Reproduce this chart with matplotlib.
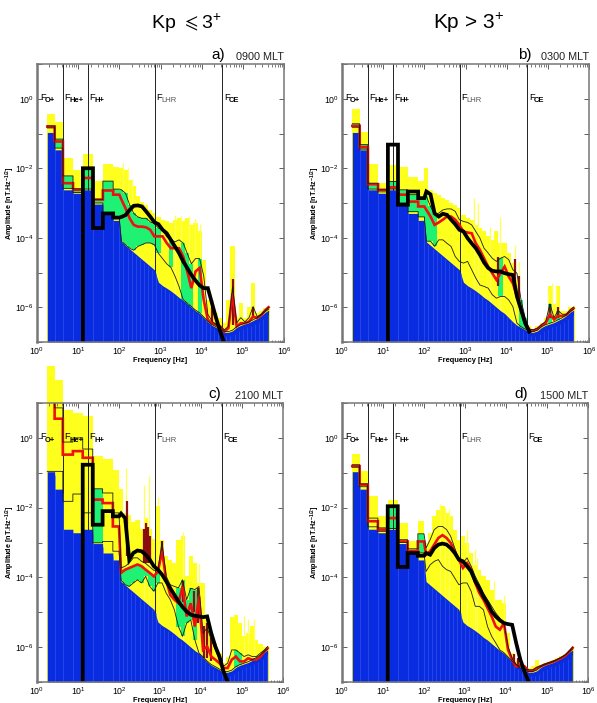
import numpy as np
import matplotlib
matplotlib.use("Agg")
import matplotlib.pyplot as plt
from matplotlib.ticker import FixedLocator, FuncFormatter, NullFormatter

plt.rcParams["font.family"] = ["Liberation Sans", "DejaVu Sans"]
plt.rcParams["mathtext.default"] = "regular"

# frequency bins, log10(Hz): 8 broad ELF bins then the narrower VLF ones
log_edges = [0.25, 0.43, 0.63, 0.875, 1.115, 1.36, 1.6, 1.85, 2.0,
             2.1, 2.2, 2.3, 2.4, 2.5, 2.6, 2.7, 2.8, 2.9, 3.0,
             3.1, 3.2, 3.3, 3.4, 3.5, 3.6, 3.7, 3.8, 3.9, 4.0,
             4.1, 4.2, 4.3, 4.4, 4.5, 4.6, 4.7, 4.8, 4.9, 5.0,
             5.1, 5.2, 5.3, 5.4, 5.5, 5.6, 5.65]
gyro_freqs = [1.09, 4.3, 17.4, 746, 32000]
gyro_names = ["O+", "He+", "H+", "LHR", "CE"]

# instrument floor, log10(nT/Hz^0.5)
floor = [-0.97, -1.47, -2.62, -2.72, -2.62, -3.03, -3.3, -3.5,
         -4.12, -4.22, -4.32, -4.42, -4.52, -4.62, -4.72, -4.82, -4.92, -5.28,
         -5.38, -5.45, -5.53, -5.62, -5.72, -5.80, -5.90, -6.00, -6.10, -6.18,
         -6.30, -6.42, -6.52, -6.58, -6.65, -6.72, -6.72, -6.68, -6.58, -6.52,
         -6.48, -6.44, -6.38, -6.32, -6.24, -6.14, -6.08]

# panel a) 0900 MLT
a_top = [-0.43, -0.68, -1.7, -2.05, -1.58, -2.38, -1.87, -1.95,
         -2.0, -2.05, -2.33, -2.52, -2.81, -2.96, -3.05, -3.2, -3.3, -3.39,
         -3.48, -3.53, -3.58, -3.48, -3.44, -3.53, -3.44, -3.63, -3.58, -3.82,
         -4.64, -5.79, -5.98, -6.17, -6.31, -6.46, -5.79, -4.25, -6.27, -5.88,
         -6.31, -5.98, -5.3, -6.17, -6.12, -6.03, -5.98]
a_upper = [-0.78, -1.16, -2.22, -2.59, -2.0, -2.9, -2.37, -2.6,
           -2.62, -2.72, -3.05, -3.3, -3.4, -3.44, -3.44, -3.54, -3.6, -3.72,
           -3.78, -3.97, -4.05, -4.12, -4.06, -4.15, -4.45, -4.75, -4.6, -4.6,
           -5.1, -6.2, -6.4, -6.5, -6.55, -6.65, -6.55, -5.4, -6.45, -6.3,
           -6.42, -6.3, -5.98, -6.27, -6.2, -6.08, -6.0]
a_red = [-0.8, -1.23, -2.43, -2.62, -2.28, -2.9, -2.64, -2.76,
         -2.9, -3.15, -3.44, -3.63, -3.68, -3.68, -3.7, -3.77, -3.96, -3.96,
         -3.96, -4.15, -4.3, -4.3, -4.3, -4.54, -4.97, -5.45, -4.97, -4.87,
         -5.79, -6.36, -6.46, -6.5, -6.55, -6.7, -6.6, -5.6, -6.55, -6.46,
         -6.46, -6.41, -6.27, -6.31, -6.22, -6.08, -6.0]
a_lower = [-0.84, -1.42, -2.58, -2.7, -2.6, -3.0, -3.3, -3.45,
           -4.1, -4.2, -4.3, -4.36, -4.25, -4.2, -4.15, -4.15, -4.2, -4.45,
           -4.6, -4.75, -4.85, -5.1, -5.4, -5.78, -5.88, -5.98, -6.08, -6.16,
           -6.28, -6.4, -6.5, -6.56, -6.63, -6.7, -6.7, -6.66, -6.56, -6.5,
           -6.46, -6.42, -6.36, -6.3, -6.22, -6.12, -6.06]
a_model = [np.nan, np.nan, np.nan, np.nan, -2.0, -3.72, -3.3, -3.42,
           -3.4, -3.35, -3.2, -3.08, -3.07, -3.1, -3.24, -3.39, -3.55, -3.61,
           -3.77, -3.87, -4.06, -4.25, -4.44, -4.68, -4.87, -5.07, -5.23, -5.37,
           -5.45, -5.45, -5.88, -6.31, -6.7, -7.03]
a_green = [0, 1, 2, 3, 4, 5, 6, 7, 8, 9, 10, 11, 12, 13, 14, 15, 16, 17, 20, 23, 24, 25, 27]
a_green_red = []
a_spike_f = [2.1, 2.2, 2.3, 3.35, 3.5, 3.7, 3.85, 3.95]
a_spike_top = [-1.85, -2.0, -2.3, -3.35, -3.38, -3.38, -3.45, -3.6]
a_dark_f = [4.75, 5.25, 4.25]
a_dark_top = [-5.2, -5.98, -5.8]
a_dark_bot = [-6.5, -6.3, -6.45]

# panel b) 0300 MLT
b_top = [-0.3, -0.97, -1.87, -2.43, -1.9, -1.95, -2.24, -2.38,
         -2.0, -2.62, -2.72, -2.76, -2.86, -2.9, -3.0, -3.05, -3.15, -3.34,
         -3.44, -3.48, -3.63, -3.72, -3.82, -3.96, -4.06, -3.82, -4.16, -4.16,
         -4.44, -4.73, -5.21, -5.98, -6.36, -6.55, -6.65, -6.55, -6.45, -6.3,
         -5.4, -5.9, -5.4, -6.1, -6.1, -6.0, -5.95]
b_upper = [-0.72, -1.32, -2.43, -2.62, -2.38, -2.62, -2.76, -2.86,
           -2.81, -3.1, -3.34, -3.29, -3.2, -3.17, -3.17, -3.24, -3.48, -3.53,
           -3.56, -3.63, -3.82, -4.01, -4.3, -4.44, -4.59, -4.68, -4.59, -4.54,
           -4.63, -4.92, -5.02, -5.79, -6.31, -6.63, -6.65, -6.6, -6.5, -6.4,
           -5.9, -6.3, -6.1, -6.2, -6.2, -6.06, -6.0]
b_red = [-0.78, -1.39, -2.46, -2.62, -2.55, -2.76, -2.96, -3.1,
         -3.2, -3.39, -3.63, -3.56, -3.48, -3.39, -3.39, -3.48, -3.63, -3.82,
         -3.85, -3.87, -4.16, -4.35, -4.59, -4.83, -5.02, -5.21, -5.02, -4.83,
         -5.12, -5.31, -5.69, -6.07, -6.46, -6.65, -6.67, -6.62, -6.52, -6.45,
         -6.2, -6.35, -6.25, -6.25, -6.22, -6.1, -6.03]
b_lower = [-0.82, -1.45, -2.6, -2.68, -2.6, -3.0, -3.25, -3.4,
           -4.1, -4.1, -4.25, -4.06, -4.06, -4.16, -4.25, -4.54, -4.68, -4.73,
           -4.68, -4.92, -5.16, -5.36, -5.4, -5.45, -5.64, -5.74, -5.69, -5.69,
           -5.79, -5.98, -6.46, -6.56, -6.63, -6.7, -6.7, -6.66, -6.56, -6.5,
           -6.46, -6.42, -6.36, -6.3, -6.22, -6.12, -6.06]
b_model = [np.nan, np.nan, np.nan, np.nan, -1.32, -3.05, -2.67, -2.86,
           -2.67, -2.75, -3.3, -3.39, -3.31, -3.34, -3.48, -3.61, -3.77, -3.82,
           -4.01, -4.16, -4.3, -4.49, -4.71, -4.87, -4.95, -4.97, -4.97, -5.02,
           -5.05, -5.07, -5.69, -6.07, -6.46, -6.7]
b_green = [0, 1, 2, 4, 5, 6, 7, 8, 9, 10, 26, 31, 32, 38, 40]
b_green_red = []
b_spike_f = [3.2, 3.3, 3.6, 3.85, 4.2, 4.3, 5.0, 5.1, 5.2]
b_spike_top = [-2.85, -3.0, -3.7, -3.4, -4.2, -4.7, -5.5, -5.3, -5.35]
b_dark_f = [3.8, 4.2, 4.3, 5.05, 5.25]
b_dark_top = [-4.55, -4.6, -5.1, -5.9, -6.0]
b_dark_bot = [-5.4, -5.5, -5.9, -6.3, -6.3]

# panel c) 2100 MLT
c_top = [2.07, 1.66, 0.81, 0.72, 0.62, -0.53, -0.62, -0.91,
         -1.48, -2.15, -2.2, -2.4, -2.35, -2.6, -2.3, -2.6, -2.9, -1.96,
         -2.92, -3.4, -3.49, -3.59, -2.92, -2.82, -3.97, -3.4, -3.59, -4.16,
         -4.16, -5.13, -5.6, -5.89, -6.17, -6.46, -6.27, -5.13, -5.07, -5.3,
         -5.69, -5.6, -5.4, -5.79, -5.9, -6.0, -5.96]
c_upper = [1.3, 0.86, -0.12, 0.0, -0.32, -1.46, -1.58, -2.15,
           -3.73, -3.68, -3.59, -3.44, -3.44, -3.54, -3.6, -3.7, -3.8, -3.78,
           -2.97, -3.97, -4.21, -4.26, -4.3, -4.07, -4.64, -4.31, -4.35, -4.26,
           -5.6, -5.45, -5.79, -6.08, -6.36, -6.55, -6.46, -6.08, -6.08, -6.17,
           -6.27, -6.22, -6.27, -6.27, -6.17, -6.08, -5.98]
c_red = [1.2, 0.55, -0.48, -0.38, -0.57, -1.77, -1.87, -2.54,
         -3.87, -3.78, -3.73, -3.68, -3.63, -3.68, -3.78, -3.87, -3.97, -3.83,
         -3.25, -4.07, -4.5, -4.64, -4.74, -4.26, -5.12, -4.74, -5.41, -4.55,
         -6.08, -5.98, -6.27, -6.36, -6.46, -6.6, -6.6, -6.36, -6.27, -6.41,
         -6.41, -6.32, -6.36, -6.36, -6.27, -6.12, -6.03]
c_lower = [-0.96, -0.96, -1.82, -1.61, -2.15, -3.01, -2.97, -3.25,
           -4.07, -4.21, -4.26, -4.16, -4.07, -4.16, -3.97, -4.26, -4.4, -4.16,
           -4.16, -4.45, -4.64, -4.93, -5.41, -5.69, -5.31, -5.22, -5.79, -6.17,
           -6.28, -6.4, -6.5, -6.56, -6.63, -6.7, -6.7, -6.66, -6.56, -6.5,
           -6.46, -6.42, -6.36, -6.3, -6.22, -6.12, -6.06]
c_model = [np.nan, np.nan, np.nan, np.nan, -0.77, -2.49, -2.1, -2.25,
           -2.17, -2.3, -3.49, -3.3, -3.23, -3.25, -3.35, -3.49, -3.68, -3.78,
           -3.92, -4.11, -4.31, -4.5, -4.69, -4.85, -4.98, -5.07, -5.1, -5.12,
           -5.14, -5.12, -5.6, -5.98, -6.27, -6.7, -6.99]
c_green = [5, 22, 23, 24, 25, 26, 36, 37]
c_green_red = [8, 9, 10, 11, 12, 13, 14, 15, 16, 17]
c_spike_f = [2.17, 2.61, 2.72, 2.95, 3.55, 3.95, 5.05, 5.15, 5.3]
c_spike_top = [-0.86, -1.34, -1.1, -1.7, -2.7, -3.6, -5.1, -5.2, -5.2]
c_dark_f = [2.19, 2.6, 2.65, 2.7, 2.75, 3.04, 3.55, 3.82, 3.93, 4.07, 4.15, 4.25]
c_dark_top = [-1.82, -2.6, -2.45, -2.55, -2.8, -2.97, -4.1, -4.4, -4.3, -5.4, -5.3, -5.7]
c_dark_bot = [-3.4, -3.6, -3.6, -3.6, -3.6, -3.4, -4.7, -5.0, -5.3, -6.3, -6.3, -6.4]

# panel d) 1500 MLT
d_top = [-0.45, -0.96, -1.66, -2.25, -1.77, -2.44, -2.97, -2.39,
         -3.0, -2.73, -2.25, -2.06, -1.96, -2.15, -2.25, -2.63, -2.92, -2.82,
         -3.01, -3.3, -3.64, -3.78, -3.97, -4.07, -4.35, -4.64, -4.64, -4.74,
         -5.6, -6.17, -6.4, -6.55, -6.6, -6.6, -6.55, -6.36, -6.5, -6.45,
         -6.42, -6.38, -6.32, -6.26, -6.2, -6.08, -5.98]
d_upper = [-0.77, -1.32, -2.3, -2.58, -1.96, -2.92, -3.18, -2.75,
           -3.16, -2.92, -2.63, -2.54, -2.54, -2.63, -2.82, -3.16, -3.49, -3.59,
           -3.44, -3.68, -3.97, -4.2, -4.45, -4.64, -4.83, -5.02, -5.17, -5.31,
           -5.98, -6.32, -6.5, -6.6, -6.62, -6.65, -6.65, -6.58, -6.53, -6.48,
           -6.44, -6.4, -6.35, -6.29, -6.22, -6.1, -6.0]
d_red = [-0.81, -1.34, -2.39, -2.63, -2.3, -2.97, -3.24, -2.97,
         -3.35, -3.25, -3.06, -2.87, -2.79, -2.87, -3.01, -3.25, -3.49, -3.73,
         -3.59, -3.78, -4.16, -4.45, -4.64, -4.88, -5.12, -5.41, -5.5, -5.31,
         -6.08, -6.36, -6.55, -6.5, -6.55, -6.68, -6.68, -6.6, -6.55, -6.5,
         -6.46, -6.42, -6.37, -6.31, -6.24, -6.12, -6.02]
d_lower = [-0.84, -1.4, -2.55, -2.68, -2.6, -3.0, -3.28, -3.3,
           -3.83, -3.64, -3.54, -3.49, -3.68, -3.78, -3.83, -4.02, -4.21, -4.16,
           -4.16, -4.4, -4.83, -4.83, -4.93, -5.41, -5.69, -5.88, -6.08, -6.16,
           -6.28, -6.4, -6.5, -6.56, -6.63, -6.7, -6.7, -6.66, -6.56, -6.5,
           -6.46, -6.42, -6.36, -6.3, -6.22, -6.12, -6.06]
d_model = [np.nan, np.nan, np.nan, np.nan, -1.96, -3.7, -3.3, -3.38,
           -3.3, -3.35, -3.16, -3.06, -3.03, -3.06, -3.16, -3.3, -3.49, -3.54,
           -3.68, -3.83, -4.11, -4.31, -4.55, -4.74, -4.98, -5.12, -5.23, -5.31,
           -5.34, -5.36, -5.89, -6.36, -6.7, -6.99]
d_green = [4, 7]
d_green_red = []
d_spike_f = [2.4, 2.5, 2.6, 3.05, 3.25, 3.3, 3.7, 3.95]
d_spike_top = [-1.9, -2.0, -2.05, -2.65, -3.2, -3.45, -4.1, -4.5]
d_dark_f = [4.2, 4.3]
d_dark_top = [-6.2, -6.3]
d_dark_bot = [-6.55, -6.6]

panel_letters = ["a)", "b)", "c)", "d)"]
panel_mlt = ["0900 MLT", "0300 MLT", "2100 MLT", "1500 MLT"]

BLUE = "#0a2ce0"
YELLOW = "#ffff1e"
GREEN = "#1ff272"
RED = "#ee1111"
DARK = "#8a0e0e"

fig_w, fig_h = 597, 703
edges = 10.0 ** np.array(log_edges)
lefts = edges[:-1]
widths = np.diff(edges)
n_broad = 8


def trace(values, from_bottom=False):
    # steps over the broad bins, a plain line through the narrow ones
    xs, ys = [], []
    for i, v in enumerate(values):
        if not np.isfinite(v):
            continue
        if i < n_broad:
            if from_bottom and not xs:
                xs.append(edges[i])
                ys.append(1e-8)
            xs += [edges[i], edges[i + 1]]
            ys += [10.0 ** v, 10.0 ** v]
        else:
            xs.append(10.0 ** ((log_edges[i] + log_edges[i + 1]) / 2))
            ys.append(10.0 ** v)
    return xs, ys


def draw_panel(box, letter, mlt, letter_x, top, upper, red, lower, model,
               green, green_red, spike_f, spike_top, dark_f, dark_top, dark_bot,
               overflow=False):
    l, t, w, h = box
    ax = fig.add_axes([l / fig_w, 1 - (t + h) / fig_h, w / fig_w, h / fig_h])
    ax.set_xscale("log")
    ax.set_yscale("log")
    ax.set_xlim(1, 1e6)
    ax.set_ylim(1e-7, 1e1)

    ax.bar(lefts, 10.0 ** np.array(top) - 1e-7, widths, bottom=1e-7, align="edge",
           color=YELLOW, linewidth=0, clip_on=not overflow, zorder=1)
    ax.vlines(10.0 ** np.array(spike_f), 1e-7, 10.0 ** np.array(spike_top),
              color="#ffff55", linewidth=0.9, zorder=1)

    for bins, ceiling in ((green, upper), (green_red, red)):
        for i in bins:
            ax.bar(lefts[i], 10.0 ** ceiling[i] - 10.0 ** lower[i], widths[i],
                   bottom=10.0 ** lower[i], align="edge", color=GREEN, linewidth=0, zorder=2)

    for f in gyro_freqs[1:]:
        ax.axvline(f, color="#222222", linewidth=0.7, zorder=2.5)

    # floor as one filled outline, with pale seams between the bins
    xs, ys = trace(floor)
    ax.fill_between(xs, 1e-7, ys, color=BLUE, linewidth=0, zorder=3)
    ax.vlines(edges[1:-1], 1e-7, 10.0 ** np.array(floor[:-1]) * 0.8,
              color="#3a5cf0", linewidth=0.4, zorder=3)

    ax.vlines(10.0 ** np.array(dark_f), 10.0 ** np.array(dark_bot), 10.0 ** np.array(dark_top),
              color=DARK, linewidth=1.6, zorder=4)
    ax.plot(*trace(red), color=RED, linewidth=1.9, solid_joinstyle="miter", zorder=5)
    ax.plot(*trace(upper), color="#1c1c10", linewidth=0.6, zorder=6)
    ax.plot(*trace(lower), color="#1c1c10", linewidth=0.6, zorder=6)

    ax.plot(*trace(model, from_bottom=True), color="black", linewidth=2.7,
            solid_joinstyle="miter", zorder=8)

    for f, name in zip(gyro_freqs, gyro_names):
        sub_weight = "normal" if name == "LHR" else "bold"
        sub_color = "#555555" if name == "LHR" else "black"
        ax.annotate("F", (f, 1), xytext=(1, 1), textcoords="offset points",
                    fontsize=6.7, va="center", ha="left", zorder=9)
        ax.annotate(name, (f, 1), xytext=(4.6, -1.6), textcoords="offset points",
                    fontsize=5.5, va="center", ha="left", color=sub_color,
                    fontweight=sub_weight, zorder=9)

    ax.xaxis.set_major_locator(FixedLocator(10.0 ** np.arange(0, 7)))
    ax.xaxis.set_minor_locator(FixedLocator([m * 10.0 ** e for e in range(6) for m in range(2, 10)]))
    ax.xaxis.set_minor_formatter(NullFormatter())
    ax.xaxis.set_major_formatter(FuncFormatter(lambda v, p: "10$^{%d}$" % round(np.log10(v))))
    ax.yaxis.set_major_locator(FixedLocator(10.0 ** np.arange(-7, 2)))
    ax.yaxis.set_minor_locator(FixedLocator([]))

    def even_decades(v, p):
        e = round(np.log10(v))
        return "10$^{%d}$" % e if e % 2 == 0 and e > -7 else ""

    ax.yaxis.set_major_formatter(FuncFormatter(even_decades))
    ax.tick_params(which="major", direction="in", top=True, right=True, length=3.5,
                   width=0.6, color="#444444", labelsize=6.3, pad=2.5)
    ax.tick_params(which="minor", direction="in", top=True, right=True, length=1.8,
                   width=0.5, color="#444444")
    for spine in ax.spines.values():
        spine.set_color("#777777")
        spine.set_linewidth(1.1)
        spine.set_zorder(10)
    ax.spines["left"].set_linewidth(1.8)

    ax.set_xlabel("Frequency [Hz]", fontsize=5.4, fontweight="bold", labelpad=0.2)
    ax.set_ylabel("Amplitude [nT.Hz$^{-1/2}$]", fontsize=5.2, fontweight="bold", labelpad=-1.5)

    ax.text(letter_x, 1.006, letter, transform=ax.transAxes, fontsize=11,
            ha="right", va="bottom")
    ax.text(1.0, 1.006, mlt, transform=ax.transAxes, fontsize=7.8, ha="right", va="bottom",
            color="#222222")
    return ax


fig = plt.figure(figsize=(fig_w / 100, fig_h / 100), dpi=100)

draw_panel((37, 64, 247, 278), panel_letters[0], panel_mlt[0], 0.761,
           a_top, a_upper, a_red, a_lower, a_model, a_green, a_green_red,
           a_spike_f, a_spike_top, a_dark_f, a_dark_top, a_dark_bot)
draw_panel((342, 64, 247, 278), panel_letters[1], panel_mlt[1], 0.769,
           b_top, b_upper, b_red, b_lower, b_model, b_green, b_green_red,
           b_spike_f, b_spike_top, b_dark_f, b_dark_top, b_dark_bot)
draw_panel((37, 403, 246, 279), panel_letters[2], panel_mlt[2], 0.75,
           c_top, c_upper, c_red, c_lower, c_model, c_green, c_green_red,
           c_spike_f, c_spike_top, c_dark_f, c_dark_top, c_dark_bot, overflow=True)
draw_panel((342, 403, 246, 279), panel_letters[3], panel_mlt[3], 0.757,
           d_top, d_upper, d_red, d_lower, d_model, d_green, d_green_red,
           d_spike_f, d_spike_top, d_dark_f, d_dark_top, d_dark_bot)

fig.text(186 / fig_w, 1 - 23 / fig_h, r"Kp $\leqslant$3$^{+}$", fontsize=14, ha="center", va="center")
fig.text(469 / fig_w, 1 - 23 / fig_h, "Kp > 3$^{+}$", fontsize=15, ha="center", va="center")

fig.savefig("out.png", dpi=100)
